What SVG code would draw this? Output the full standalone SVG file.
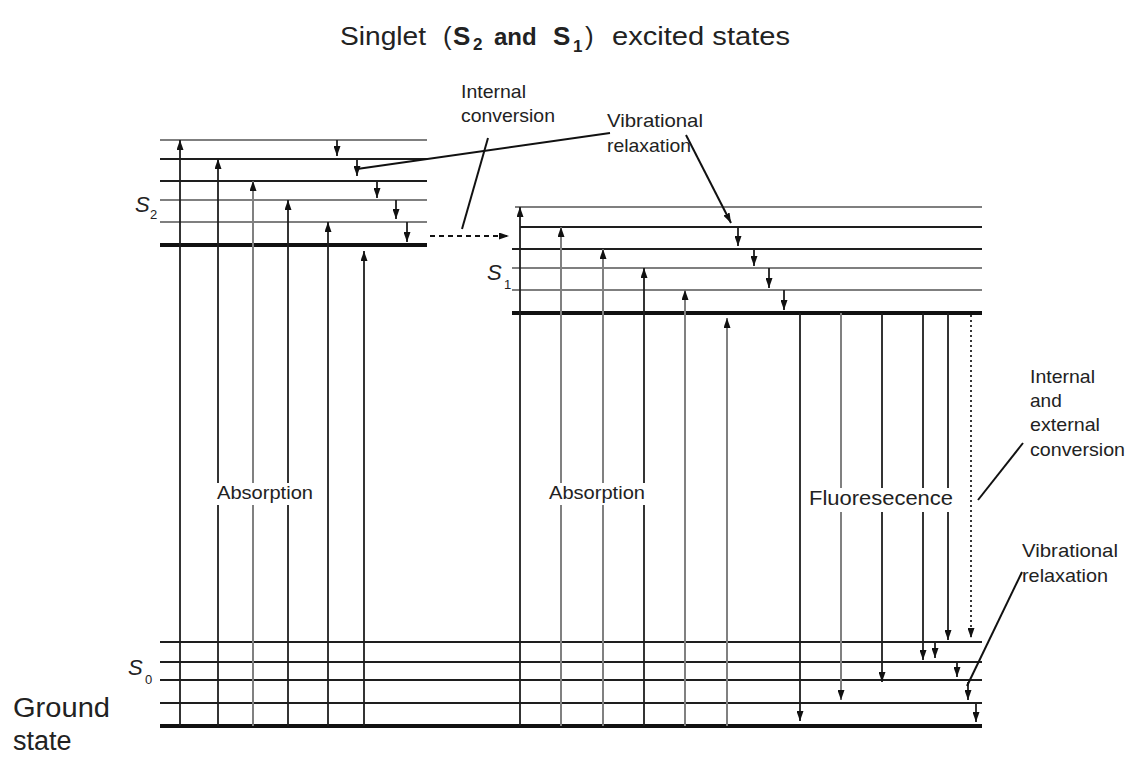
<svg xmlns="http://www.w3.org/2000/svg" width="1130" height="757" viewBox="0 0 1130 757">
<defs>
<style>
.t{font-family:"Liberation Sans",Arial,sans-serif;fill:#222}
.lab{font-size:19px}
.dk{stroke:#1e1e1e;stroke-width:2;fill:none}
.gy{stroke:#7f7f7f;stroke-width:2;fill:none}
.thk{stroke:#111;stroke-width:4;fill:none}
.v{stroke:#1e1e1e;stroke-width:1.8;fill:none}
.vg{stroke:#808080;stroke-width:2;fill:none}
.ptr{stroke:#111;stroke-width:2;fill:none}
.sl{font-family:"Liberation Sans",Arial,sans-serif;font-style:italic;fill:#222}
</style>
<marker id="ah" viewBox="0 0 10 10" refX="10" refY="5" markerWidth="10" markerHeight="7" markerUnits="userSpaceOnUse" orient="auto" preserveAspectRatio="none">
<path d="M0,0 L10,5 L0,10 z" fill="#111"/>
</marker>
</defs>
<rect width="1130" height="757" fill="#fff"/>

<g id="title" class="t">
<text x="340" y="45" font-size="26" textLength="86" lengthAdjust="spacingAndGlyphs">Singlet</text>
<text x="443" y="45" font-size="26">(</text>
<text x="453" y="45" font-size="26" font-weight="bold">S</text>
<text x="473" y="50" font-size="17" font-weight="bold">2</text>
<text x="494" y="45" font-size="24" font-weight="bold">and</text>
<text x="553" y="45" font-size="26" font-weight="bold">S</text>
<text x="573" y="52" font-size="17" font-weight="bold">1</text>
<text x="585" y="45" font-size="26">)</text>
<text x="612" y="45" font-size="26" textLength="178" lengthAdjust="spacingAndGlyphs">excited states</text>
</g>

<g id="S2-levels">
<line class="gy" x1="160" y1="140" x2="427" y2="140"/>
<line class="dk" x1="160" y1="159" x2="427" y2="159"/>
<line class="dk" x1="160" y1="181" x2="427" y2="181"/>
<line class="gy" x1="160" y1="200" x2="427" y2="200"/>
<line class="gy" x1="160" y1="222" x2="427" y2="222"/>
<line class="thk" x1="160" y1="245" x2="427" y2="245"/>
<text class="sl" x="135" y="212" font-size="22">S</text>
<text class="t" x="150" y="219" font-size="13">2</text>
</g>

<g id="S1-levels">
<line class="gy" x1="515" y1="207" x2="982" y2="207"/>
<line class="dk" x1="520" y1="227" x2="982" y2="227"/>
<line class="dk" x1="512" y1="249" x2="982" y2="249"/>
<line class="gy" x1="512" y1="268" x2="982" y2="268"/>
<line class="gy" x1="512" y1="290" x2="982" y2="290"/>
<line class="thk" x1="512" y1="313" x2="982" y2="313"/>
<text class="sl" x="487" y="280" font-size="22">S</text>
<text class="t" x="504" y="289" font-size="13">1</text>
</g>

<g id="S0-levels">
<line class="dk" x1="160" y1="642" x2="982" y2="642"/>
<line class="dk" x1="160" y1="662" x2="982" y2="662"/>
<line class="dk" x1="160" y1="680" x2="982" y2="680"/>
<line class="dk" x1="160" y1="703" x2="982" y2="703"/>
<line class="thk" x1="160" y1="726" x2="982" y2="726"/>
<text class="sl" x="128" y="675" font-size="22">S</text>
<text class="t" x="145" y="684" font-size="13">0</text>
</g>

<g id="ground-label" class="t">
<text x="13" y="717" font-size="27" textLength="97" lengthAdjust="spacingAndGlyphs">Ground</text>
<text x="13" y="750" font-size="27">state</text>
</g>

<g id="connectors">
<line class="v" x1="180" y1="726" x2="180" y2="140" marker-end="url(#ah)"/>
<line class="v" x1="218" y1="726" x2="218" y2="159" marker-end="url(#ah)"/>
<line class="vg" x1="253" y1="726" x2="253" y2="181" marker-end="url(#ah)"/>
<line class="v" x1="288" y1="726" x2="288" y2="200" marker-end="url(#ah)"/>
<line class="v" x1="328" y1="726" x2="328" y2="222" marker-end="url(#ah)"/>
<line class="v" x1="364" y1="726" x2="364" y2="251" marker-end="url(#ah)"/>
<line class="v" x1="337" y1="140" x2="337" y2="156" marker-end="url(#ah)"/>
<line class="v" x1="357" y1="159" x2="357" y2="176" marker-end="url(#ah)"/>
<line class="v" x1="377" y1="181" x2="377" y2="198" marker-end="url(#ah)"/>
<line class="v" x1="396" y1="200" x2="396" y2="219" marker-end="url(#ah)"/>
<line class="v" x1="407" y1="222" x2="407" y2="242" marker-end="url(#ah)"/>
<line x1="430" y1="236" x2="509" y2="236" stroke="#111" stroke-width="1.8" stroke-dasharray="5,4" marker-end="url(#ah)"/>
<line class="v" x1="520" y1="726" x2="520" y2="207" marker-end="url(#ah)"/>
<line class="vg" x1="561" y1="726" x2="561" y2="227" marker-end="url(#ah)"/>
<line class="vg" x1="603" y1="726" x2="603" y2="249" marker-end="url(#ah)"/>
<line class="v" x1="644" y1="726" x2="644" y2="268" marker-end="url(#ah)"/>
<line class="vg" x1="685" y1="726" x2="685" y2="290" marker-end="url(#ah)"/>
<line class="vg" x1="727" y1="726" x2="727" y2="318" marker-end="url(#ah)"/>
<line class="v" x1="738" y1="227" x2="738" y2="246" marker-end="url(#ah)"/>
<line class="v" x1="754" y1="249" x2="754" y2="266" marker-end="url(#ah)"/>
<line class="v" x1="769" y1="268" x2="769" y2="288" marker-end="url(#ah)"/>
<line class="v" x1="784" y1="290" x2="784" y2="310" marker-end="url(#ah)"/>
<line class="v" x1="800" y1="313" x2="800" y2="721" marker-end="url(#ah)"/>
<line class="vg" x1="841" y1="313" x2="841" y2="700" marker-end="url(#ah)"/>
<line class="v" x1="882" y1="313" x2="882" y2="682" marker-end="url(#ah)"/>
<line class="v" x1="923" y1="313" x2="923" y2="660" marker-end="url(#ah)"/>
<line class="v" x1="948" y1="313" x2="948" y2="640" marker-end="url(#ah)"/>
<line x1="971" y1="315" x2="971" y2="638" stroke="#222" stroke-width="1.8" stroke-dasharray="2,3" marker-end="url(#ah)"/>
<line class="v" x1="935" y1="642" x2="935" y2="658" marker-end="url(#ah)"/>
<line class="v" x1="957" y1="662" x2="957" y2="677" marker-end="url(#ah)"/>
<line class="v" x1="968" y1="682" x2="968" y2="700" marker-end="url(#ah)"/>
<line class="v" x1="976" y1="703" x2="976" y2="722" marker-end="url(#ah)"/>
<line class="ptr" x1="488" y1="138" x2="462" y2="229"/>
<line class="ptr" x1="610" y1="133" x2="357" y2="169"/>
<line class="ptr" x1="686" y1="135" x2="731" y2="223" marker-end="url(#ah)"/>
<line class="ptr" x1="1023" y1="443" x2="978" y2="500"/>
<line class="ptr" x1="1022" y1="572" x2="967" y2="686"/>
</g>

<g id="label-internal-conversion" class="t lab">
<text x="461" y="98" textLength="65" lengthAdjust="spacingAndGlyphs">Internal</text>
<text x="461" y="122" textLength="94" lengthAdjust="spacingAndGlyphs">conversion</text>
</g>
<g id="label-vibrational-top" class="t lab">
<text x="607" y="127" textLength="96" lengthAdjust="spacingAndGlyphs">Vibrational</text>
<text x="607" y="152" textLength="84" lengthAdjust="spacingAndGlyphs">relaxation</text>
</g>
<g id="label-absorption-left">
<rect x="214" y="483" width="102" height="22" fill="#fff"/>
<text class="t lab" x="217" y="499" textLength="96" lengthAdjust="spacingAndGlyphs">Absorption</text>
</g>
<g id="label-absorption-right">
<rect x="546" y="483" width="102" height="22" fill="#fff"/>
<text class="t lab" x="549" y="499" textLength="96" lengthAdjust="spacingAndGlyphs">Absorption</text>
</g>
<g id="label-fluorescence">
<rect x="805" y="488" width="152" height="24" fill="#fff"/>
<text class="t" x="809" y="505" font-size="20" textLength="144" lengthAdjust="spacingAndGlyphs">Fluoresecence</text>
</g>
<g id="label-internal-external" class="t lab">
<text x="1030" y="383" textLength="65" lengthAdjust="spacingAndGlyphs">Internal</text>
<text x="1030" y="407">and</text>
<text x="1030" y="431" textLength="70" lengthAdjust="spacingAndGlyphs">external</text>
<text x="1030" y="456" textLength="95" lengthAdjust="spacingAndGlyphs">conversion</text>
</g>
<g id="label-vibrational-bottom" class="t lab">
<text x="1022" y="557" textLength="96" lengthAdjust="spacingAndGlyphs">Vibrational</text>
<text x="1022" y="582" textLength="86" lengthAdjust="spacingAndGlyphs">relaxation</text>
</g>
</svg>
